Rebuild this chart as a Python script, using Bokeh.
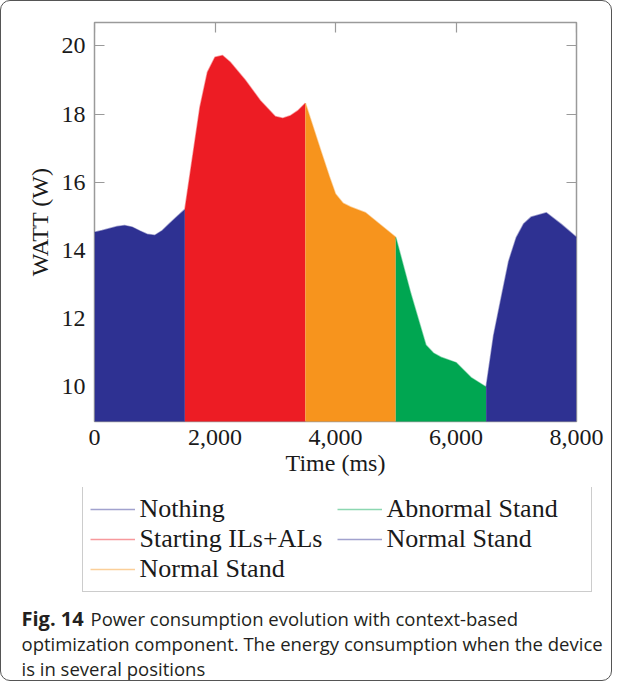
from bokeh.plotting import figure
from bokeh.layouts import column
from bokeh.models import (Range1d, LinearAxis, FixedTicker, NumeralTickFormatter,
                          Legend, LegendItem, Label)
from bokeh.embed import file_html
from bokeh.resources import INLINE

# ---- data (time in ms, power in W) ----
nothing_t = [0, 125, 250, 375, 500, 625, 750, 875, 1000, 1125, 1250, 1375, 1500]
nothing_w = [14.53, 14.58, 14.64, 14.70, 14.73, 14.68, 14.57, 14.47, 14.44, 14.58, 14.79, 15.0, 15.2]

starting_t = [1500, 1625, 1750, 1875, 2000, 2125, 2250, 2500, 2750, 3000, 3125, 3250, 3375, 3500]
starting_w = [15.2, 16.7, 18.2, 19.23, 19.67, 19.72, 19.53, 19.0, 18.4, 17.93, 17.88, 17.95, 18.1, 18.32]

normal1_t = [3500, 3750, 3900, 4000, 4125, 4250, 4500, 4750, 5000]
normal1_w = [18.32, 16.95, 16.15, 15.65, 15.38, 15.27, 15.1, 14.74, 14.38]

abnormal_t = [5000, 5250, 5500, 5625, 5750, 6000, 6250, 6500]
abnormal_w = [14.38, 12.72, 11.22, 10.98, 10.86, 10.7, 10.26, 9.98]

normal2_t = [6500, 6625, 6750, 6875, 7000, 7125, 7250, 7500, 7750, 8000]
normal2_w = [9.98, 11.5, 12.6, 13.68, 14.37, 14.78, 14.98, 15.1, 14.76, 14.38]

labels = ["Nothing", "Starting ILs+ALs", "Normal Stand", "Abnormal Stand", "Normal Stand"]
x_ticks = [0, 2000, 4000, 6000, 8000]
y_ticks = [10, 12, 14, 16, 18, 20]

caption_bold = "Fig. 14"
caption_lines = ["Power consumption evolution with context-based",
                 "optimization component. The energy consumption when the device",
                 "is in several positions"]

colors = ["#2E3192", "#ED1C24", "#F7941D", "#00A651", "#2E3192"]
series = [(nothing_t, nothing_w), (starting_t, starting_w), (normal1_t, normal1_w),
          (abnormal_t, abnormal_w), (normal2_t, normal2_w)]

SERIF = "Liberation Serif"
GRAY = "#9a9a9a"
TXT = "#1a1a1a"

# ---------------- main chart ----------------
p = figure(width=610, height=486, x_range=Range1d(0, 8000), y_range=Range1d(8.97, 20.69),
           output_backend="svg", toolbar_location=None,
           min_border_left=93, min_border_right=35, min_border_top=21, min_border_bottom=66,
           x_axis_label="Time (ms)", y_axis_label="WATT (W)")
p.frame_align = False
p.grid.visible = False
p.outline_line_color = GRAY
p.outline_line_width = 1.5
p.background_fill_color = "white"
p.border_fill_color = None


def tick_only_axis(ticks):
    ax = LinearAxis(ticker=FixedTicker(ticks=ticks))
    ax.major_label_overrides = {t: "" for t in ticks}
    ax.major_label_text_font_size = "1px"
    ax.major_label_standoff = 0
    ax.major_tick_in = 10
    ax.major_tick_out = 0
    ax.minor_tick_line_color = None
    ax.axis_line_color = None
    ax.major_tick_line_color = GRAY
    ax.major_tick_line_width = 1.2
    ax.level = "underlay"
    return ax


xax = p.below[0]
yax = p.left[0]
p.add_layout(tick_only_axis(x_ticks), "above")
p.add_layout(tick_only_axis(y_ticks), "right")
p.left = [tick_only_axis(y_ticks), yax]

xax.ticker = FixedTicker(ticks=x_ticks)
xax.formatter = NumeralTickFormatter(format="0,0")
yax.ticker = FixedTicker(ticks=y_ticks)
for ax in (xax, yax):
    ax.major_tick_in = 0
    ax.major_tick_out = 0
    ax.minor_tick_line_color = None
    ax.axis_line_color = None
    ax.major_label_text_font = SERIF
    ax.major_label_text_font_size = "24px"
    ax.major_label_text_color = TXT
    ax.axis_label_text_font = SERIF
    ax.axis_label_text_font_size = "24px"
    ax.axis_label_text_font_style = "normal"
    ax.axis_label_text_color = TXT
xax.major_label_standoff = 8
xax.axis_label_standoff = 2
yax.major_label_standoff = 9
yax.axis_label_standoff = 6

for (t, w), col in zip(series, colors):
    p.varea(x=t, y1=0, y2=w, fill_color=col, fill_alpha=1.0)
    p.line(t, w, line_color=col, line_alpha=0.45, line_width=1.5)

# ---------------- legend + caption panel ----------------
c = figure(width=610, height=193, x_range=Range1d(0, 1), y_range=Range1d(0, 1),
           output_backend="svg", toolbar_location=None, min_border=0,
           x_axis_location=None, y_axis_location=None)
c.frame_align = False
c.grid.visible = False
c.outline_line_color = None
c.background_fill_color = None
c.border_fill_color = None

# legend samples: the same series (they fall outside this panel's ranges)
legend_renderers = [c.line(t, w, line_color=col, line_alpha=0.45, line_width=1.5)
                    for (t, w), col in zip(series, colors)]

legend = Legend(items=[LegendItem(label=lab, renderers=[r]) for lab, r in zip(labels, legend_renderers)],
                location=(80.5, 88.5), orientation="vertical", ncols=2,
                label_text_font=SERIF, label_text_font_size="26px", label_text_color=TXT,
                glyph_width=45, glyph_height=20, label_width=197, label_height=30,
                label_standoff=5, padding=7, spacing=0, margin=0,
                border_line_color=GRAY, border_line_width=1.5, background_fill_alpha=1.0)
c.add_layout(legend)

CAP = "Open Sans"
cap_color = "#231f20"
cap_y = [62.5, 37, 12.5]
c.add_layout(Label(x=20, y=cap_y[0], x_units="screen", y_units="screen", text=caption_bold,
                   text_font=CAP, text_font_size="20px", text_font_style="bold",
                   text_color=cap_color, text_baseline="alphabetic"))
c.add_layout(Label(x=89, y=cap_y[0], x_units="screen", y_units="screen", text=caption_lines[0],
                   text_font=CAP, text_font_size="18.5px", text_color=cap_color,
                   text_baseline="alphabetic"))
for line, yy in zip(caption_lines[1:], cap_y[1:]):
    c.add_layout(Label(x=20, y=yy, x_units="screen", y_units="screen", text=line,
                       text_font=CAP, text_font_size="18.5px", text_color=cap_color,
                       text_baseline="alphabetic"))

page = column(p, c, spacing=0,
              styles={"border": "1.5px solid #555555", "border-radius": "10px",
                      "background-color": "white"})

open("out.html", "w").write(file_html(page, INLINE))
